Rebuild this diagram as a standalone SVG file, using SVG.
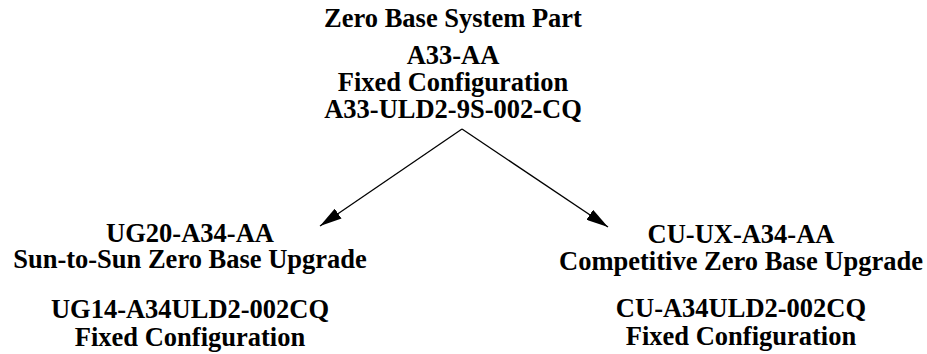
<svg xmlns="http://www.w3.org/2000/svg" width="927" height="354" viewBox="0 0 927 354">
<defs>
<style>
text{font-family:"Liberation Serif","Times New Roman",serif;font-weight:bold;font-size:26.5px;fill:#000;text-anchor:middle}
.c{stroke:#000;stroke-width:1.3;fill:none}
</style>
<marker id="ah" viewBox="0 0 22 12" refX="22" refY="6" markerWidth="22" markerHeight="12" markerUnits="userSpaceOnUse" orient="auto">
<path d="M0,0 L22,6 L0,12 z" fill="#000"/>
</marker>
</defs>
<rect width="927" height="354" fill="#fff"/>
<g id="top">
<text x="453" y="27">Zero Base System Part</text>
<text x="453" y="64">A33-AA</text>
<text x="453" y="91">Fixed Configuration</text>
<text x="453" y="118">A33-ULD2-9S-002-CQ</text>
</g>
<g id="left">
<text x="190" y="242">UG20-A34-AA</text>
<text x="190" y="268">Sun-to-Sun Zero Base Upgrade</text>
<text x="190" y="318">UG14-A34ULD2-002CQ</text>
<text x="190" y="346">Fixed Configuration</text>
</g>
<g id="right">
<text x="741" y="243">CU-UX-A34-AA</text>
<text x="741" y="270">Competitive Zero Base Upgrade</text>
<text x="741" y="317">CU-A34ULD2-002CQ</text>
<text x="741" y="345">Fixed Configuration</text>
</g>
<g id="connectors">
<line class="c" x1="462" y1="129" x2="320" y2="226" marker-end="url(#ah)"/>
<line class="c" x1="462" y1="129" x2="608" y2="227" marker-end="url(#ah)"/>
</g>
</svg>
